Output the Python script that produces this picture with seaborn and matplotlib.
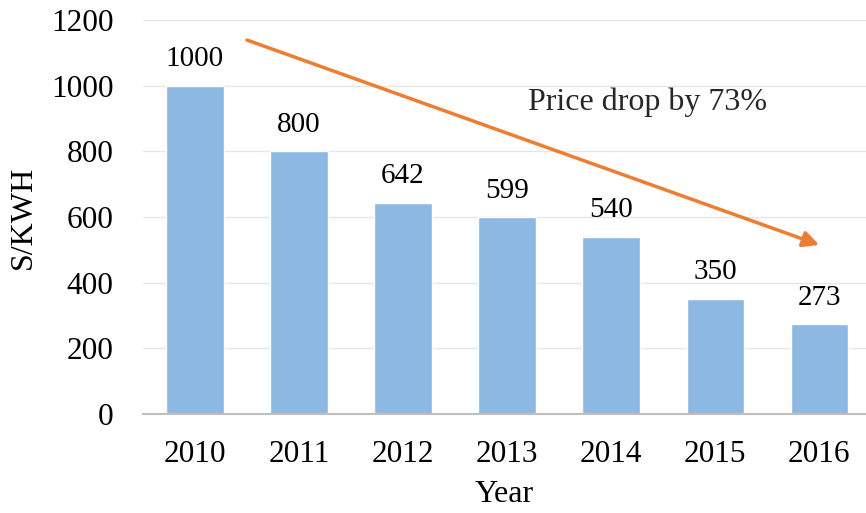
import matplotlib
matplotlib.use("Agg")
import matplotlib.pyplot as plt
import pandas as pd
import seaborn as sns

years = ["2010", "2011", "2012", "2013", "2014", "2015", "2016"]
prices = [1000, 800, 642, 599, 540, 350, 273]
y_ticks = [0, 200, 400, 600, 800, 1000, 1200]

sns.set_theme(style="white")
plt.rcParams["font.family"] = ["Liberation Serif", "DejaVu Serif"]

df = pd.DataFrame({"Year": years, "Price": prices})

fig = plt.figure(figsize=(8.66, 5.13), dpi=100)
ax = fig.add_axes([0.165, 0.193, 0.835, 0.768])

sns.barplot(data=df, x="Year", y="Price", color="#8DB8E2", width=0.55,
            saturation=1, ax=ax, zorder=2)

# value labels above bars
for i, v in enumerate(prices):
    ax.text(i, v + 42, str(v), ha="center", va="bottom", fontsize=21, color="black")

ax.set_ylim(0, 1200)
ax.set_xlim(-0.5, 6.45)
ax.set_yticks(y_ticks)
ax.yaxis.grid(True, color="#E6E6E6", linewidth=1, zorder=0)
ax.set_axisbelow(True)
for s in ["top", "right", "left"]:
    ax.spines[s].set_visible(False)
ax.spines["bottom"].set_color("#BFBFBF")
ax.spines["bottom"].set_linewidth(1.5)
ax.tick_params(axis="both", length=0, labelsize=22.5, colors="black")
ax.tick_params(axis="y", pad=21)
ax.tick_params(axis="x", pad=19)

ax.set_xlabel("Year", fontsize=23, color="black", va="center")
ax.xaxis.set_label_coords(0.5, -0.205)
ax.set_ylabel("S/KWH", fontsize=23, color="black", va="center")
ax.yaxis.set_label_coords(-0.165, 0.5)

ax.annotate("", xy=(6.0, 515), xytext=(0.5, 1139),
            arrowprops=dict(arrowstyle="-|>", color="#ED7D31", lw=2.5,
                            mutation_scale=24, shrinkA=0, shrinkB=0))
ax.text(4.35, 950, "Price drop by 73%", ha="center", va="center", fontsize=23)

fig.savefig("out.png", dpi=100)
